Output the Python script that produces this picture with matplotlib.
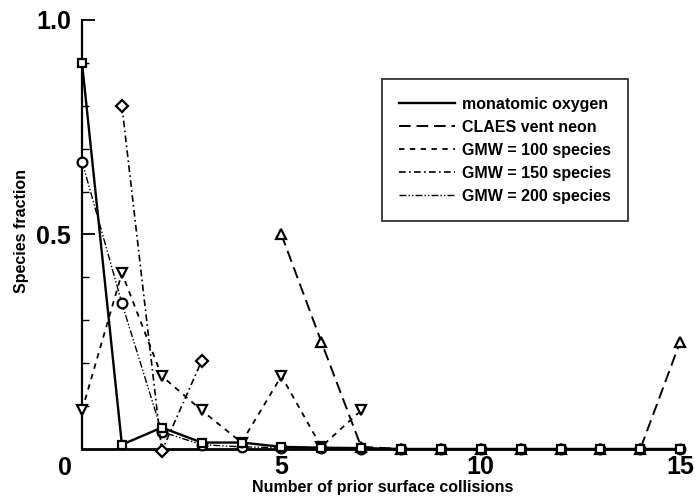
import matplotlib
matplotlib.use("Agg")
import matplotlib.pyplot as plt
from matplotlib.lines import Line2D
import numpy as np

# collisions count and species fractions
x_oxy = list(range(16))
oxygen = [0.90, 0.01, 0.05, 0.015, 0.015, 0.005, 0.003, 0.002,
          0.0, 0.0, 0.0, 0.0, 0.0, 0.0, 0.0, 0.0]

x_claes = list(range(5, 16))
claes = [0.50, 0.25, 0.005, 0.0, 0.0, 0.0, 0.0, 0.0, 0.0, 0.0, 0.25]

x_gmw100 = list(range(8))
gmw100 = [0.09, 0.41, 0.17, 0.09, 0.015, 0.17, 0.005, 0.09]

x_gmw150 = [1, 2, 3]
gmw150 = [0.80, -0.005, 0.205]

x_gmw200 = list(range(16))
gmw200 = [0.67, 0.34, 0.04, 0.01, 0.005, 0.003, 0.002, 0.0,
          0.0, 0.0, 0.0, 0.0, 0.0, 0.0, 0.0, 0.0]

labels = ["monatomic oxygen", "CLAES vent neon", "GMW = 100 species",
          "GMW = 150 species", "GMW = 200 species"]

plt.rcParams['font.family'] = ['Liberation Sans', 'DejaVu Sans']

fig = plt.figure(figsize=(6.98, 5.03), dpi=100)
ax = fig.add_axes([0.1175, 0.1074, 0.861, 0.853])

styles = ['-', (0, (6, 3)), (0, (3, 3)), (0, (4, 2, 1, 2)), (0, (5, 1.5, 1, 1.5, 1, 1.5))]
widths = [1.7, 1.4, 1.3, 1.2, 1.0]

mk = dict(color='black', markerfacecolor='white', markeredgecolor='black',
          markersize=7, markeredgewidth=1.6, clip_on=False)

ax.plot(x_gmw200, gmw200, linestyle=styles[4], linewidth=widths[4], marker='o', zorder=3, **mk)
ax.plot(x_gmw150, gmw150, linestyle=styles[3], linewidth=widths[3], marker='D',
        **{**mk, 'markersize': 6}, zorder=3)
ax.plot(x_gmw100, gmw100, linestyle=styles[2], linewidth=widths[2], marker='v', zorder=3, **mk)
ax.plot(x_claes, claes, linestyle=styles[1], linewidth=widths[1], marker='^', zorder=3, **mk)
ax.plot(x_oxy, oxygen, linestyle=styles[0], linewidth=widths[0], marker='s',
        **{**mk, 'markersize': 6}, zorder=4)

ax.set_xlim(0, 15.07)
ax.set_ylim(0, 1.0)
for s in ['top', 'right']:
    ax.spines[s].set_visible(False)
ax.spines['left'].set_linewidth(1.6)
ax.spines['bottom'].set_linewidth(2.0)

ax.set_xticks([5, 10, 15])
ax.set_xticklabels(['5', '10', '15'], fontsize=18, fontweight='bold')
ax.tick_params(axis='x', length=0, pad=4)

ax.set_yticks([0.5, 1.0])
ax.set_yticklabels(['0.5', '1.0'], fontsize=18, fontweight='bold')
ax.set_yticks(np.arange(0.1, 1.0, 0.1), minor=True)
ax.tick_params(axis='y', which='major', direction='in', length=9, width=1.3, pad=8)
ax.tick_params(axis='y', which='minor', direction='in', length=5, width=1.0)

ax.annotate('0', xy=(0, 0), xycoords='data', xytext=(-12.5, -13.5),
            textcoords='offset points', fontsize=18, fontweight='bold',
            ha='center', va='center', annotation_clip=False)

ax.set_xlabel('Number of prior surface collisions', fontsize=11.5, fontweight='bold')
ax.xaxis.set_label_coords(0.5, -0.073)
ax.set_ylabel('Species fraction', fontsize=11.5, fontweight='bold')
ax.yaxis.set_label_coords(-0.088, 0.508)

handles = [Line2D([], [], color='black', linestyle=st, linewidth=lw)
           for st, lw in zip(styles, widths)]
leg = ax.legend(handles, labels, loc='upper left', bbox_to_anchor=(0.499, 0.862),
                frameon=True, fancybox=False, edgecolor='black',
                prop={'size': 11.5, 'weight': 'bold'}, handlelength=3.5,
                handletextpad=0.4, labelspacing=0.5, borderpad=1.1,
                borderaxespad=0.0)
leg.get_frame().set_linewidth(1.3)

fig.savefig('out.png', dpi=100)
